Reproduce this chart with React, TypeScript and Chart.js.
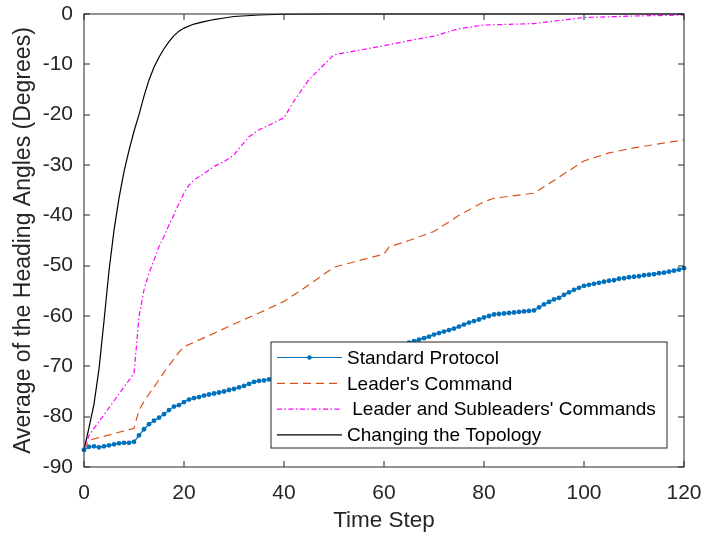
import React, { useEffect, useRef } from "react";
import { Chart, registerables } from "chart.js";

Chart.register(...registerables);

// Average heading angle (degrees) per time step, one value per step 0..120
const standardProtocol = [
  -86.6, -86.0, -85.9, -86.1, -85.9, -85.7, -85.5, -85.3, -85.2, -85.2,
  -85.0, -83.7, -82.5, -81.5, -80.8, -80.2, -79.5, -78.7, -78.0, -77.7,
  -77.1, -76.6, -76.3, -76.1, -75.8, -75.6, -75.4, -75.2, -75.0, -74.7,
  -74.5, -74.2, -73.9, -73.5, -73.1, -72.9, -72.8, -72.6, -72.5, -72.3,
  -72.2, -71.9, -71.6, -71.3, -71.0, -70.7, -70.4, -70.1, -69.8, -69.6,
  -69.4, -69.1, -68.9, -68.7, -68.5, -68.3, -68.1, -67.9, -67.7, -67.5,
  -67.3, -66.9, -66.5, -66.1, -65.7, -65.3, -65.0, -64.7, -64.4, -64.1,
  -63.7, -63.4, -63.1, -62.8, -62.5, -62.1, -61.7, -61.3, -61.0, -60.7,
  -60.3, -60.0, -59.7, -59.6, -59.5, -59.4, -59.3, -59.2, -59.1, -59.0,
  -58.9, -58.3, -57.7, -57.2, -56.7, -56.4, -55.8, -55.3, -54.8, -54.4,
  -54.0, -53.8, -53.6, -53.4, -53.2, -53.0, -52.9, -52.6, -52.5, -52.3,
  -52.2, -52.1, -51.9, -51.8, -51.7, -51.5, -51.4, -51.2, -51.0, -50.8,
  -50.5,
];

const leaderSteps = [0, 1, 10, 11, 12, 13, 14, 15, 16, 17, 18, 19, 20, 25, 30, 35, 40, 45, 50, 55, 60, 61, 65, 70, 75, 80, 82, 90, 100, 105, 110, 120];
const leaderCommand = [
  -86.6, -84.7, -82.3, -78.7, -77.0, -75.5, -74.1, -72.7, -71.2, -69.8,
  -68.5, -67.2, -66.1, -63.9, -61.6, -59.4, -57.1, -53.8, -50.3, -49.0,
  -47.7, -46.3, -45.0, -43.2, -40.0, -37.3, -36.6, -35.6, -29.2, -27.6,
  -26.6, -25.0,
];

const subleaderSteps = [0, 1, 10, 11, 12, 13, 14, 15, 16, 17, 18, 19, 20, 21, 22, 24, 26, 28, 30, 31, 33, 35, 37, 39, 40, 42, 45, 50, 55, 60, 65, 70, 75, 80, 90, 100, 110, 120];
const subleaderCommands = [
  -86.6, -83.7, -71.4, -60.1, -54.8, -51.5, -48.9, -46.2, -44.2, -41.9,
  -39.9, -37.6, -35.6, -34.0, -33.0, -31.7, -30.3, -29.3, -28.0, -26.7,
  -24.4, -23.0, -22.1, -21.1, -20.6, -17.3, -13.0, -8.1, -7.2, -6.3,
  -5.3, -4.4, -2.9, -2.2, -1.9, -0.7, -0.4, -0.2,
];

const topologySteps = [0, 1, 2, 3, 4, 5, 6, 7, 8, 9, 10, 11, 12, 13, 14, 15, 16, 17, 18, 19, 20, 22, 24, 26, 28, 30, 35, 40, 50, 60, 80, 100, 120];
const changingTopology = [
  -86.6, -82.2, -77.5, -70.5, -61.0, -51.0, -43.0, -36.6, -31.3, -27.1,
  -23.3, -20.0, -16.3, -13.1, -10.6, -8.6, -6.9, -5.5, -4.3, -3.4,
  -2.8, -2.0, -1.5, -1.1, -0.8, -0.5, -0.2, -0.05, 0, 0,
  0, 0, 0,
];

const seriesNames = [
  "Standard Protocol",
  "Leader's Command",
  " Leader and Subleaders' Commands",
  "Changing the Topology",
];
const seriesColors = ["#0072BD", "#D95319", "#FF00FF", "#000000"];
const seriesDashes: number[][] = [[], [8, 5], [5, 2.5, 1.5, 2.5], []];

const xTicks = { min: 0, max: 120, step: 20 };
const yTicks = { min: -90, max: 0, step: 10 };

const FONT = "'Liberation Sans', Arial, Helvetica, sans-serif";
const AXIS_COLOR = "#262626";

const toPoints = (xs: number[], ys: number[]) => ys.map((y, i) => ({ x: xs[i], y }));

// Box around the axes, inward tick marks on all four sides, and the inset legend
const framePlugin = {
  id: "frameAndLegend",
  afterDatasetsDraw(chart: any) {
    const { ctx, chartArea: a, scales } = chart;
    ctx.save();
    ctx.strokeStyle = AXIS_COLOR;
    ctx.lineWidth = 1;
    ctx.setLineDash([]);
    ctx.strokeRect(a.left, a.top, a.right - a.left, a.bottom - a.top);
    const tl = 6;
    ctx.beginPath();
    for (const t of scales.x.ticks) {
      const px = Math.round(scales.x.getPixelForValue(t.value));
      ctx.moveTo(px, a.bottom);
      ctx.lineTo(px, a.bottom - tl);
      ctx.moveTo(px, a.top);
      ctx.lineTo(px, a.top + tl);
    }
    for (const t of scales.y.ticks) {
      const py = Math.round(scales.y.getPixelForValue(t.value));
      ctx.moveTo(a.left, py);
      ctx.lineTo(a.left + tl, py);
      ctx.moveTo(a.right, py);
      ctx.lineTo(a.right - tl, py);
    }
    ctx.stroke();

    // legend box in the lower right of the axes
    const boxRight = a.right - 17;
    const boxBottom = a.bottom - 19;
    const boxW = 396;
    const boxH = 106;
    const boxLeft = boxRight - boxW;
    const boxTop = boxBottom - boxH;
    ctx.fillStyle = "#ffffff";
    ctx.fillRect(boxLeft, boxTop, boxW, boxH);
    ctx.strokeStyle = AXIS_COLOR;
    ctx.lineWidth = 1;
    ctx.strokeRect(boxLeft, boxTop, boxW, boxH);

    ctx.font = `19px ${FONT}`;
    ctx.textBaseline = "middle";
    ctx.textAlign = "left";
    seriesNames.forEach((name, i) => {
      const y = boxTop + 15.5 + i * 25.8;
      const x0 = boxLeft + 6;
      const x1 = boxLeft + 71;
      ctx.strokeStyle = seriesColors[i];
      ctx.lineWidth = 1.2;
      ctx.setLineDash(seriesDashes[i]);
      ctx.beginPath();
      ctx.moveTo(x0, y);
      ctx.lineTo(x1, y);
      ctx.stroke();
      ctx.setLineDash([]);
      if (i === 0) {
        ctx.fillStyle = seriesColors[i];
        ctx.beginPath();
        ctx.arc((x0 + x1) / 2, y, 2.3, 0, Math.PI * 2);
        ctx.fill();
      }
      ctx.fillStyle = "#000000";
      ctx.fillText(name, boxLeft + 76, y + 1);
    });
    ctx.restore();
  },
};

export default function App() {
  const canvasRef = useRef<HTMLCanvasElement | null>(null);

  useEffect(() => {
    document.body.style.margin = "0";
    const canvas = canvasRef.current;
    if (!canvas) return;

    const standardSteps = standardProtocol.map((_, i) => i);

    const chart = new Chart(canvas, {
      type: "line",
      data: {
        datasets: [
          {
            label: seriesNames[0],
            data: toPoints(standardSteps, standardProtocol),
            borderColor: seriesColors[0],
            backgroundColor: seriesColors[0],
            borderWidth: 1.2,
            pointRadius: 2.4,
            pointBorderWidth: 0,
            pointBackgroundColor: seriesColors[0],
            fill: false,
            clip: false,
          },
          {
            label: seriesNames[1],
            data: toPoints(leaderSteps, leaderCommand),
            borderColor: seriesColors[1],
            borderWidth: 1.2,
            borderDash: seriesDashes[1],
            pointRadius: 0,
            fill: false,
            clip: false,
          },
          {
            label: seriesNames[2],
            data: toPoints(subleaderSteps, subleaderCommands),
            borderColor: seriesColors[2],
            borderWidth: 1.2,
            borderDash: seriesDashes[2],
            pointRadius: 0,
            fill: false,
            clip: false,
          },
          {
            label: seriesNames[3],
            data: toPoints(topologySteps, changingTopology),
            borderColor: seriesColors[3],
            borderWidth: 1.2,
            pointRadius: 0,
            fill: false,
            clip: false,
          },
        ],
      },
      options: {
        animation: false,
        responsive: false,
        devicePixelRatio: 1,
        layout: { padding: { left: 0, top: 14, right: 18, bottom: 0 } },
        plugins: {
          legend: { display: false },
          tooltip: { enabled: false },
        },
        scales: {
          x: {
            type: "linear",
            min: xTicks.min,
            max: xTicks.max,
            grid: { display: false, drawTicks: false },
            border: { display: false },
            ticks: {
              stepSize: xTicks.step,
              padding: 14,
              color: AXIS_COLOR,
              font: { family: FONT, size: 21 },
              maxRotation: 0,
            },
            title: {
              display: true,
              text: "Time Step",
              color: AXIS_COLOR,
              font: { family: FONT, size: 22.5 },
              padding: { top: 0, bottom: 4 },
            },
            afterFit: (s: any) => {
              s.height = 71;
              s.paddingLeft = 0;
              s.paddingRight = 0;
            },
          },
          y: {
            type: "linear",
            min: yTicks.min,
            max: yTicks.max,
            grid: { display: false, drawTicks: false },
            border: { display: false },
            ticks: {
              stepSize: yTicks.step,
              padding: 11,
              color: AXIS_COLOR,
              font: { family: FONT, size: 21 },
            },
            title: {
              display: true,
              text: "Average of the Heading Angles (Degrees)",
              color: AXIS_COLOR,
              font: { family: FONT, size: 23 },
              padding: { top: 10, bottom: 0 },
            },
            afterFit: (s: any) => {
              s.width = 84;
              s.paddingTop = 0;
              s.paddingBottom = 0;
            },
          },
        },
      },
      plugins: [framePlugin],
    });

    return () => chart.destroy();
  }, []);

  return (
    <div style={{ width: 702, height: 538 }}>
      <canvas ref={canvasRef} width={702} height={538} />
    </div>
  );
}
